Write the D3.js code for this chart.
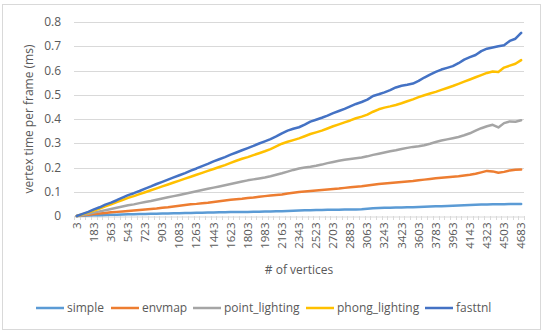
<!DOCTYPE html>
<html>
<head>
<meta charset="utf-8">
<script src="https://cdn.jsdelivr.net/npm/d3@7"></script>
<style>
  body { margin: 0; background: #fff; }
  text { font-family: "Open Sans", "Noto Sans", sans-serif; fill: #595959; }
</style>
</head>
<body>
<script>
// number of vertices (category axis)
var vertices = [3,63,123,183,243,303,363,423,483,543,603,663,723,783,843,903,963,1023,1083,1143,
  1203,1263,1323,1383,1443,1503,1563,1623,1683,1743,1803,1863,1923,1983,2043,2103,2163,2223,2283,2343,
  2403,2463,2523,2583,2643,2703,2763,2823,2883,2943,3003,3063,3123,3183,3243,3303,3363,3423,3483,3543,
  3603,3663,3723,3783,3843,3903,3963,4023,4083,4143,4203,4263,4323,4383,4443,4503,4563,4623,4683];

var simple = [0.000,0.001,0.002,0.003,0.003,0.004,0.005,0.005,0.006,0.007,0.007,0.008,0.008,0.009,0.009,
  0.010,0.010,0.011,0.011,0.012,0.012,0.013,0.013,0.014,0.014,0.015,0.015,0.016,0.016,0.017,0.017,0.018,
  0.018,0.019,0.019,0.020,0.020,0.021,0.022,0.023,0.024,0.024,0.025,0.025,0.026,0.026,0.026,0.027,0.027,
  0.027,0.028,0.030,0.032,0.033,0.034,0.034,0.035,0.035,0.036,0.036,0.037,0.038,0.039,0.040,0.040,0.041,
  0.042,0.043,0.044,0.045,0.046,0.047,0.047,0.048,0.048,0.048,0.049,0.050,0.050];

var envmap = [0.000,0.003,0.005,0.008,0.010,0.012,0.015,0.017,0.019,0.021,0.023,0.025,0.027,0.029,0.031,
  0.034,0.036,0.039,0.042,0.045,0.048,0.050,0.053,0.055,0.058,0.061,0.064,0.067,0.069,0.071,0.074,0.076,
  0.079,0.082,0.085,0.087,0.089,0.093,0.096,0.099,0.101,0.103,0.105,0.107,0.109,0.111,0.113,0.116,0.119,
  0.121,0.123,0.126,0.129,0.132,0.134,0.136,0.138,0.140,0.142,0.144,0.147,0.150,0.153,0.156,0.158,0.160,
  0.162,0.164,0.167,0.170,0.174,0.180,0.186,0.184,0.178,0.182,0.188,0.191,0.192];

var point_lighting = [0.000,0.004,0.009,0.014,0.019,0.024,0.029,0.034,0.039,0.044,0.048,0.053,0.058,0.062,
  0.067,0.072,0.077,0.082,0.087,0.092,0.097,0.102,0.107,0.112,0.117,0.122,0.127,0.132,0.137,0.142,0.147,
  0.151,0.155,0.159,0.164,0.170,0.176,0.183,0.190,0.196,0.200,0.203,0.207,0.212,0.218,0.223,0.228,0.232,
  0.235,0.238,0.241,0.246,0.252,0.257,0.262,0.267,0.271,0.276,0.281,0.285,0.288,0.292,0.298,0.305,0.311,
  0.316,0.321,0.326,0.333,0.341,0.352,0.362,0.370,0.376,0.365,0.383,0.390,0.389,0.395];

var phong_lighting = [0.000,0.007,0.014,0.022,0.031,0.040,0.048,0.057,0.066,0.075,0.082,0.090,0.098,0.106,
  0.114,0.122,0.130,0.138,0.146,0.154,0.162,0.170,0.178,0.186,0.194,0.202,0.210,0.219,0.228,0.236,0.243,
  0.251,0.259,0.267,0.276,0.287,0.298,0.306,0.313,0.320,0.329,0.338,0.345,0.352,0.361,0.370,0.378,0.386,
  0.394,0.403,0.410,0.418,0.430,0.440,0.447,0.452,0.458,0.465,0.473,0.481,0.490,0.498,0.505,0.512,0.520,
  0.528,0.536,0.545,0.554,0.563,0.572,0.581,0.590,0.596,0.594,0.612,0.620,0.628,0.643];

var fasttnl = [0.000,0.009,0.017,0.027,0.036,0.047,0.055,0.065,0.076,0.086,0.094,0.103,0.113,0.122,0.132,
  0.141,0.150,0.159,0.168,0.177,0.187,0.196,0.206,0.215,0.225,0.234,0.243,0.253,0.262,0.271,0.280,0.289,
  0.299,0.308,0.317,0.328,0.341,0.352,0.360,0.366,0.377,0.389,0.397,0.405,0.414,0.424,0.433,0.442,0.452,
  0.462,0.470,0.480,0.495,0.502,0.510,0.519,0.530,0.537,0.541,0.546,0.557,0.571,0.583,0.594,0.604,0.611,
  0.618,0.630,0.645,0.655,0.664,0.680,0.690,0.695,0.700,0.704,0.722,0.731,0.755];

var seriesNames = ["simple", "envmap", "point_lighting", "phong_lighting", "fasttnl"];
var seriesValues = [simple, envmap, point_lighting, phong_lighting, fasttnl];
var colors = ["#5b9bd5", "#ed7d31", "#a5a5a5", "#ffc000", "#4472c4"];
var yTicks = [0, 0.1, 0.2, 0.3, 0.4, 0.5, 0.6, 0.7, 0.8];

var W = 543, H = 332;
var plotLeft = 74, plotRight = 524, plotTop = 22, plotBottom = 216;

var svg = d3.select("body").append("svg")
  .attr("width", W)
  .attr("height", H);

// chart border
svg.append("rect")
  .attr("x", 2.5).attr("y", 4.5)
  .attr("width", 538).attr("height", 325)
  .attr("fill", "#fff")
  .attr("stroke", "#d9d9d9");

var x = d3.scaleBand()
  .domain(vertices)
  .range([plotLeft, plotRight]);

var y = d3.scaleLinear()
  .domain([0, 0.8])
  .range([plotBottom, plotTop]);

// gridlines
svg.append("g")
  .selectAll("line")
  .data(yTicks.slice(1))
  .enter()
  .append("line")
  .attr("x1", plotLeft).attr("x2", plotRight)
  .attr("y1", d => Math.round(y(d)) + 0.5)
  .attr("y2", d => Math.round(y(d)) + 0.5)
  .attr("stroke", "#d9d9d9");

// y labels
svg.append("g")
  .selectAll("text")
  .data(yTicks)
  .enter()
  .append("text")
  .attr("x", 61)
  .attr("y", d => y(d) + 4)
  .attr("text-anchor", "end")
  .style("font-size", "12px")
  .text(d => d === 0 ? "0" : d3.format(".1f")(d));

// x axis
var xAxis = d3.axisBottom(x)
  .tickValues(vertices.filter((d, i) => i % 3 === 0))
  .tickSize(0)
  .tickPadding(0);

var gx = svg.append("g")
  .attr("transform", "translate(0," + (Math.round(plotBottom) + 0.5) + ")")
  .call(xAxis);
gx.select(".domain").attr("stroke", "#d9d9d9");
gx.selectAll(".tick text")
  .attr("transform", "rotate(-90)")
  .attr("x", -6)
  .attr("y", 0)
  .attr("dy", "0.35em")
  .attr("text-anchor", "end")
  .style("font-size", "11.5px")
  .style("font-family", "'Open Sans', sans-serif")
  .attr("fill", "#595959");

// category tick marks at band boundaries
svg.append("g")
  .selectAll("line")
  .data(vertices.concat(["end"]))
  .enter()
  .append("line")
  .attr("x1", (d, i) => Math.round(plotLeft + i * x.bandwidth()) + 0.5)
  .attr("x2", (d, i) => Math.round(plotLeft + i * x.bandwidth()) + 0.5)
  .attr("y1", plotBottom)
  .attr("y2", plotBottom + 4)
  .attr("stroke", "#d9d9d9");

// lines
var line = d3.line()
  .x((d, i) => x(vertices[i]) + x.bandwidth() / 2)
  .y(d => y(d));

svg.append("g")
  .selectAll("path")
  .data(seriesValues)
  .enter()
  .append("path")
  .attr("d", d => line(d))
  .attr("fill", "none")
  .attr("stroke", (d, i) => colors[i])
  .attr("stroke-width", 2.5)
  .attr("stroke-linejoin", "round")
  .attr("stroke-linecap", "round");

// axis titles
svg.append("text")
  .attr("transform", "translate(33," + ((plotTop + plotBottom) / 2) + ") rotate(-90)")
  .attr("text-anchor", "middle")
  .style("font-size", "12px")
  .text("vertex time per frame (ms)");

svg.append("text")
  .attr("x", (plotLeft + plotRight) / 2)
  .attr("y", 274)
  .attr("text-anchor", "middle")
  .style("font-size", "12px")
  .text("# of vertices");

// legend
var legendX = [36, 111, 193, 306, 425];
var legend = svg.append("g")
  .selectAll("g")
  .data(seriesNames)
  .enter()
  .append("g")
  .attr("transform", (d, i) => "translate(" + legendX[i] + ",308)");

legend.append("line")
  .attr("x1", 0).attr("x2", 28)
  .attr("stroke", (d, i) => colors[i])
  .attr("stroke-width", 2.5);

legend.append("text")
  .attr("x", 31)
  .attr("y", 4)
  .style("font-size", "12px")
  .text(d => d);
</script>
</body>
</html>
